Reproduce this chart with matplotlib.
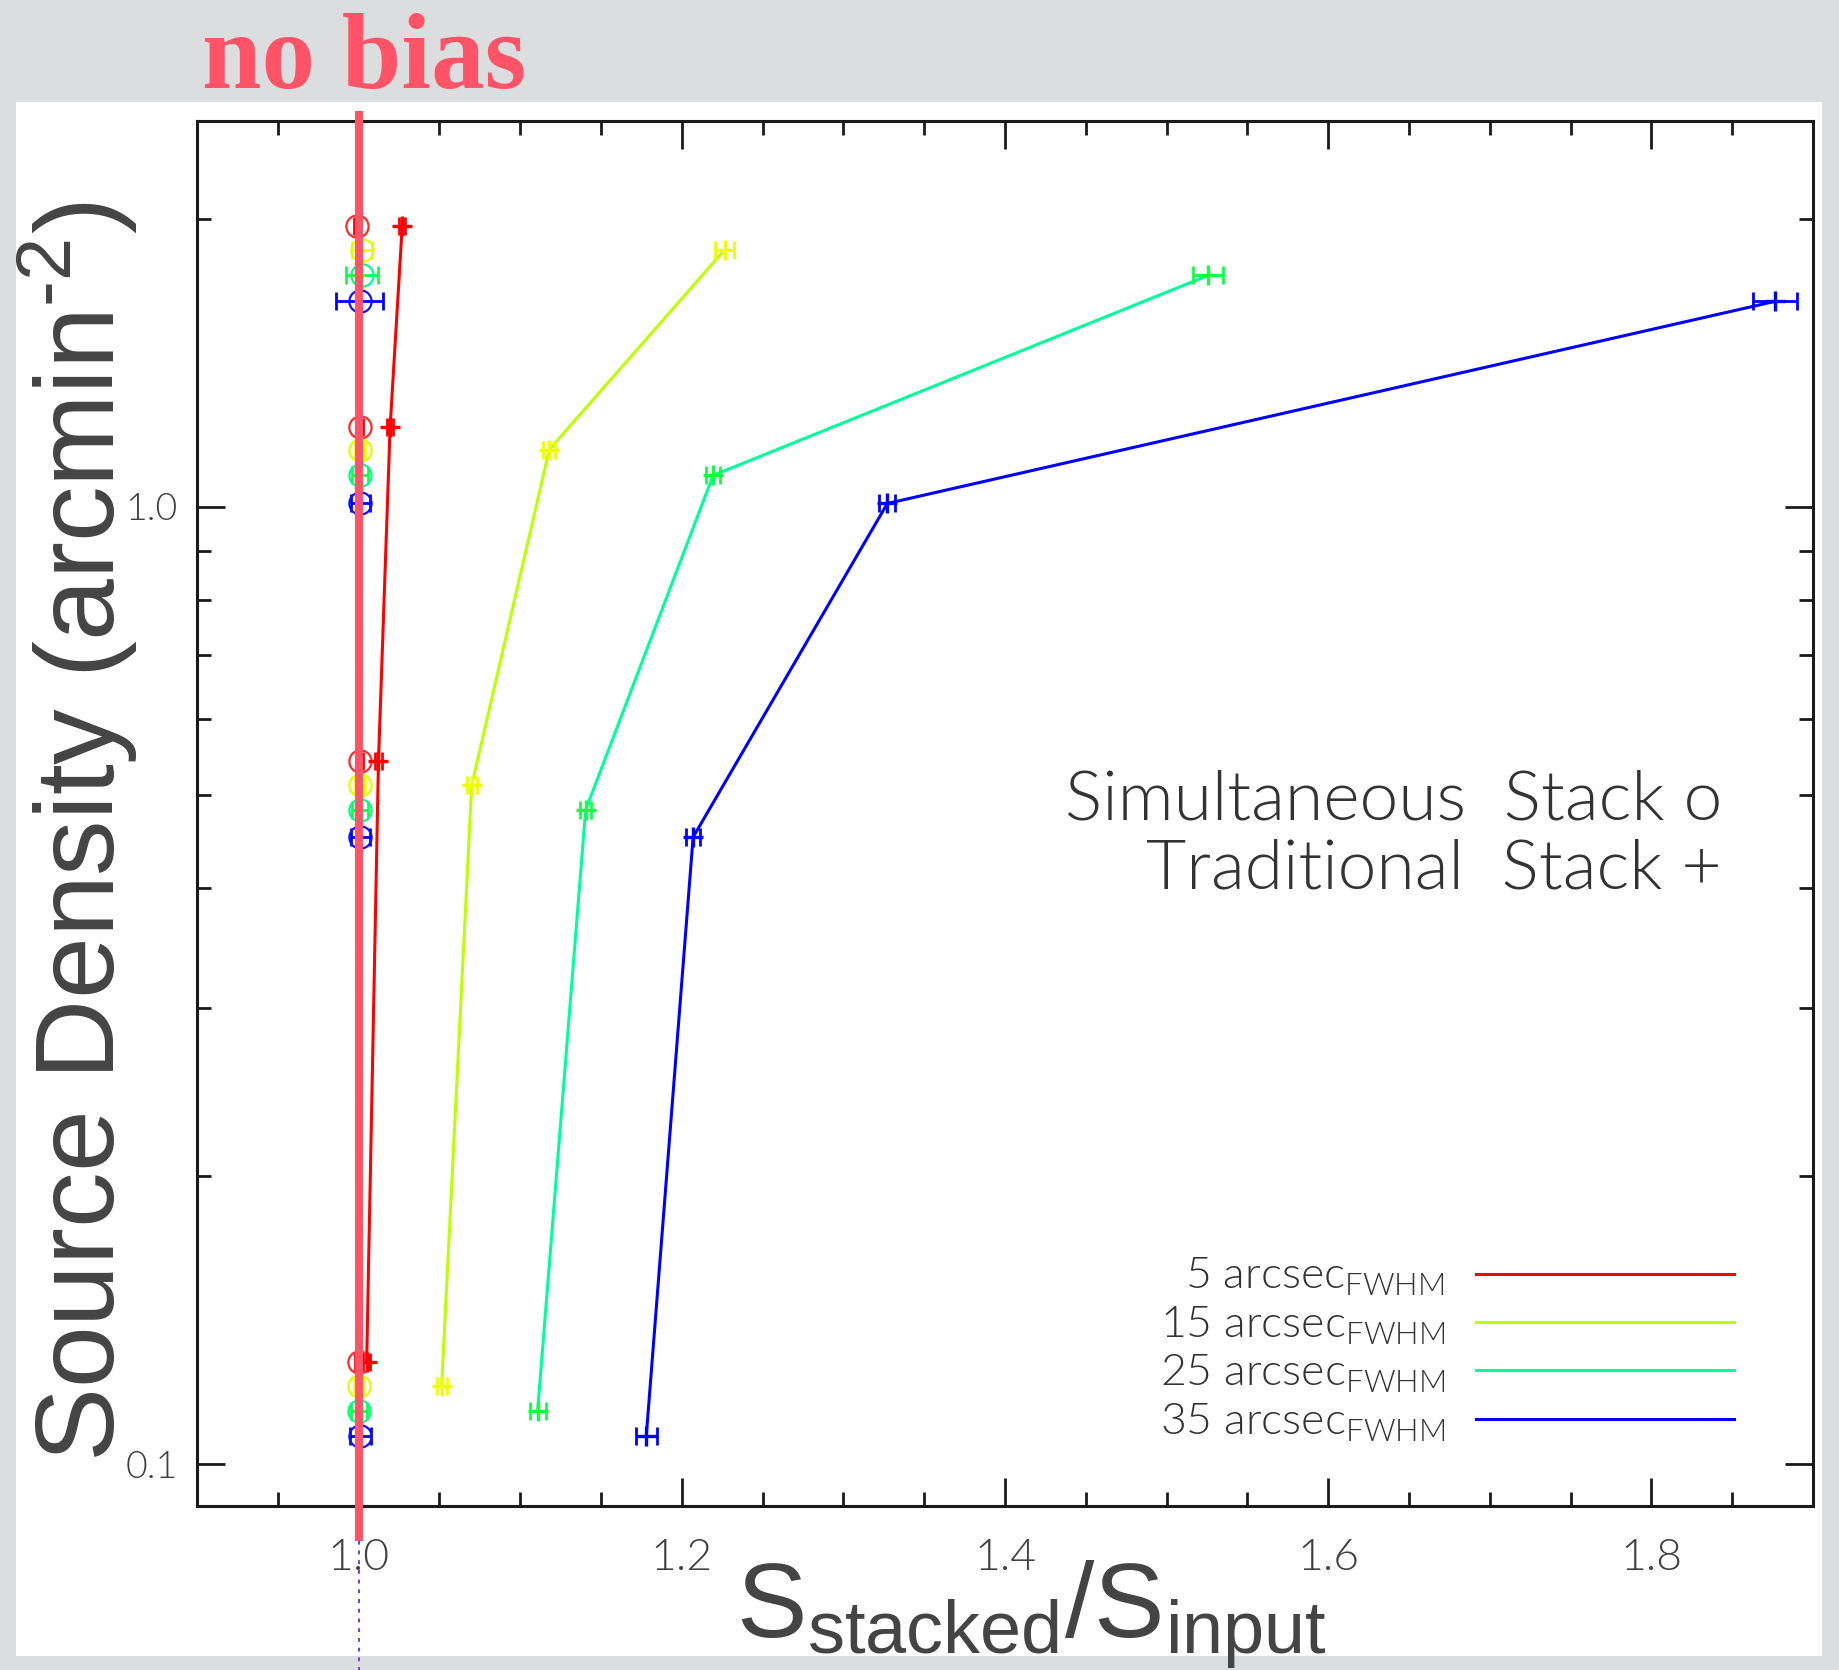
import matplotlib
matplotlib.use('Agg')
import matplotlib.pyplot as plt
from matplotlib.lines import Line2D
from matplotlib.patches import Rectangle
from matplotlib.ticker import FixedLocator, FixedFormatter, NullFormatter, LogLocator

# ------------------------------------------------------------------
# data
# ------------------------------------------------------------------
fwhm_labels = ['5', '15', '25', '35']

# source density (arcmin^-2) of each stacked point, per beam size
dens_5 = [1.965, 1.212, 0.543, 0.128]
dens_15 = [1.857, 1.148, 0.512, 0.1208]
dens_25 = [1.745, 1.079, 0.4826, 0.1138]
dens_35 = [1.640, 1.0085, 0.452, 0.107]

# traditional stack  S_stacked / S_input
trad_5 = [1.027, 1.0195, 1.0123, 1.005]
trad_15 = [1.2266, 1.118, 1.070, 1.0514]
trad_25 = [1.5256, 1.2194, 1.1405, 1.1108]
trad_35 = [1.8767, 1.3272, 1.207, 1.178]
trad_err_5 = [0.002, 0.002, 0.002, 0.002]
trad_err_15 = [0.0058, 0.0036, 0.003, 0.003]
trad_err_25 = [0.0094, 0.0043, 0.0036, 0.005]
trad_err_35 = [0.0136, 0.005, 0.0043, 0.0064]

# simultaneous stack
simul_5 = [0.999, 1.001, 1.001, 1.0]
simul_15 = [1.002, 1.001, 1.001, 1.0]
simul_25 = [1.002, 1.001, 1.001, 1.0]
simul_35 = [1.0006, 1.001, 1.001, 1.001]
simul_err_5 = [0.002, 0.002, 0.002, 0.002]
simul_err_15 = [0.006, 0.003, 0.003, 0.003]
simul_err_25 = [0.010, 0.005, 0.005, 0.005]
simul_err_35 = [0.0145, 0.006, 0.006, 0.0065]

x_ticks = [1.0, 1.2, 1.4, 1.6, 1.8]
x_ticklabels = ['1.0', '1.2', '1.4', '1.6', '1.8']
y_ticks = [0.1, 1.0]
y_ticklabels = ['0.1', '1.0']

series = [
    (dens_5, trad_5, trad_err_5, simul_5, simul_err_5),
    (dens_15, trad_15, trad_err_15, simul_15, simul_err_15),
    (dens_25, trad_25, trad_err_25, simul_25, simul_err_25),
    (dens_35, trad_35, trad_err_35, simul_35, simul_err_35),
]
line_colors = ['#ff0000', '#bbff00', '#00ff99', '#0000ff']
err_colors = ['#ff0000', '#eeff00', '#11ff44', '#0000ff']
circ_colors = ['#ff2a2a', '#ddff00', '#00ff88', '#1010ff']

W, H = 1840, 1670
THIN = ['Lato', 'Roboto', 'DejaVu Sans']
THIN_W = 300


def px(x, y):
    """pixel position (from top-left) -> figure fraction"""
    return x / W, 1 - y / H


fig = plt.figure(figsize=(W / 100, H / 100), dpi=100)
fig.patch.set_facecolor('#dcdddf')
fig.add_artist(Rectangle(px(16, 1656), (1822 - 16) / W, (1656 - 102) / H,
                         transform=fig.transFigure, facecolor='white',
                         edgecolor='none', zorder=0))

left, right, top, bottom = 197, 1813, 121, 1506
ax = fig.add_axes([left / W, 1 - bottom / H, (right - left) / W, (bottom - top) / H])
ax.set_facecolor('white')
ax.set_yscale('log')
ax.set_xlim(0.9, 1.9)
ax.set_ylim(0.0905, 2.53)

for (dens, trad, terr, sim, serr), lc, ec, cc in zip(series, line_colors, err_colors, circ_colors):
    ax.plot(sim, dens, color=cc, lw=1.8, zorder=2)
    ax.errorbar(sim, dens, xerr=serr, fmt='none', ecolor=ec, elinewidth=2.0,
                capsize=6.8, capthick=2.0, zorder=3)
    ax.plot(sim, dens, ls='none', marker='o', ms=16, mfc='none', mec=cc, mew=1.6, zorder=3)
    ax.plot(trad, dens, color=lc, lw=2.2, zorder=2)
    ax.errorbar(trad, dens, xerr=terr, fmt='none', ecolor=ec, elinewidth=2.0,
                capsize=6.8, capthick=2.0, zorder=3)
    ax.plot(trad, dens, ls='none', marker='+', ms=14, mec=ec, mew=2.4, zorder=3)

# "no bias" reference line
ax.axvline(1.0, ymin=-0.0255, ymax=1.0072, color='#ff5468', lw=5.8,
           clip_on=False, zorder=5, solid_capstyle='butt')
ax.axvline(1.0, ymin=-0.12, ymax=-0.0255, color='#6a40d0', lw=1.4, ls=(0, (2, 3)),
           clip_on=False, zorder=5)
fig.text(*px(364, 88), 'no bias', ha='center', va='baseline', fontsize=77,
         fontweight='bold', family='Liberation Serif', color='#ff5468')

# axes styling
for sp in ax.spines.values():
    sp.set_linewidth(2.2)
    sp.set_color('#1a1a1a')
ax.xaxis.set_major_locator(FixedLocator(x_ticks))
ax.xaxis.set_major_formatter(FixedFormatter(x_ticklabels))
ax.xaxis.set_minor_locator(FixedLocator([0.95 + 0.05 * i for i in range(19)]))
ax.yaxis.set_major_locator(FixedLocator(y_ticks))
ax.yaxis.set_major_formatter(FixedFormatter(y_ticklabels))
ax.yaxis.set_minor_locator(LogLocator(base=10, subs=range(2, 10)))
ax.yaxis.set_minor_formatter(NullFormatter())
ax.tick_params(which='both', direction='in', top=True, right=True,
               color='#1a1a1a', width=2.0)
ax.tick_params(which='major', length=20)
ax.tick_params(which='minor', length=10)
ax.tick_params(axis='x', which='major', pad=24, labelsize=32, labelcolor='#404040')
ax.tick_params(axis='y', which='major', pad=14, labelsize=27, labelcolor='#404040')
for lab in ax.get_xticklabels() + ax.get_yticklabels():
    lab.set_family(THIN)
    lab.set_fontweight(THIN_W)

# axis titles
fig.text(*px(78, 832), 'Source Density (arcmin$^{\\mathregular{‐2}}$)', rotation=90,
         ha='center', va='center', fontsize=80, color='#444444', family='Liberation Sans')
fig.text(*px(1031, 1637), r'$\mathregular{S_{stacked}/S_{input}}$', ha='center',
         va='baseline', fontsize=76, color='#444444', family='Liberation Sans')

# stack-type key
ax.text(0.9437, 0.496, 'Simultaneous  Stack o', transform=ax.transAxes, ha='right',
        va='baseline', fontsize=50, color='#333333', family=THIN, fontweight=THIN_W)
ax.text(0.9437, 0.446, 'Traditional  Stack +', transform=ax.transAxes, ha='right',
        va='baseline', fontsize=50, color='#333333', family=THIN, fontweight=THIN_W)

# beam size legend (labels left, lines right)
handles = [Line2D([], [], color=c, lw=2.2) for c in line_colors]
labels = [f'{f} arcsec$_{{\\mathregular{{FWHM}}}}$' for f in fwhm_labels]
leg = ax.legend(handles, labels, loc='lower right', bbox_to_anchor=(0.951, 0.045),
                markerfirst=False, frameon=False, handlelength=5.8, handletextpad=0.7,
                labelspacing=0.14, borderpad=0, borderaxespad=0,
                prop={'family': THIN, 'weight': THIN_W, 'size': 32})
for t in leg.get_texts():
    t.set_color('#333333')

fig.savefig('out.png', dpi=100, facecolor=fig.get_facecolor())
